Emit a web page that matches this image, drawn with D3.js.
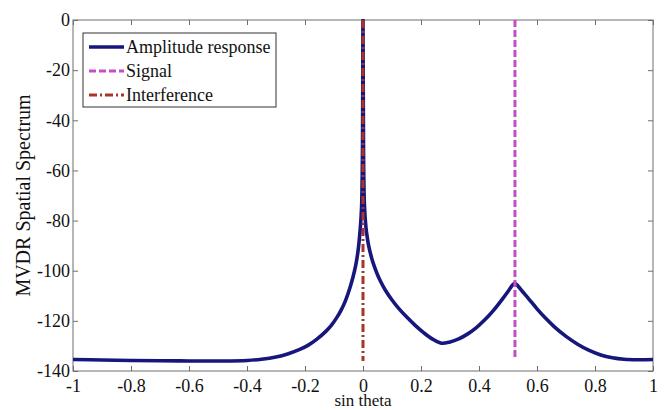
<!DOCTYPE html>
<html>
<head>
<meta charset="utf-8">
<script src="https://cdn.jsdelivr.net/npm/d3@7"></script>
<style>
  html, body { margin: 0; padding: 0; background: #fff; }
  svg { display: block; }
</style>
</head>
<body>
<svg id="chart" width="668" height="410"></svg>
<script>
// ---- data ----
const sinTheta = [-1, -0.9, -0.8, -0.7, -0.6, -0.5, -0.4, -0.35, -0.3, -0.26, -0.22, -0.19, -0.16, -0.13, -0.11, -0.09, -0.075, -0.06, -0.045, -0.034, -0.025, -0.017, -0.01, -0.005, -0.002, 0,
  0.002, 0.005, 0.01, 0.015, 0.02, 0.03, 0.04, 0.05, 0.06, 0.07, 0.08, 0.1, 0.12, 0.15, 0.18, 0.21, 0.24, 0.27, 0.3, 0.33, 0.36, 0.39, 0.42, 0.45, 0.48, 0.5, 0.515, 0.524,
  0.535, 0.55, 0.57, 0.6, 0.63, 0.66, 0.7, 0.74, 0.78, 0.82, 0.86, 0.9, 0.95, 1];
const amplitude = [-135.4, -135.6, -135.8, -135.9, -136.0, -136.0, -135.8, -135.3, -134.4, -133.2, -131.5, -129.8, -127.4, -124.4, -121.9, -118.6, -115.6, -111.8, -106.8, -102.3, -97.8, -92.0, -84.0, -75.0, -55.0, 0,
  -55.0, -74.0, -82.5, -87.0, -90.3, -95.0, -98.6, -101.6, -104.1, -106.3, -108.3, -111.7, -114.6, -118.4, -121.8, -124.8, -127.3, -128.9, -128.4, -127.2, -125.3, -122.8, -119.6, -115.8, -111.4, -108.3, -105.8, -105.0,
  -106.2, -108.3, -111.0, -115.2, -119.0, -122.4, -126.2, -129.3, -131.8, -133.6, -134.7, -135.3, -135.5, -135.4];
const signalX = 0.524;
const signalY = [0, -135];
const interferenceX = 0;
const interferenceY = [0, -136];
const xTicks = [-1, -0.8, -0.6, -0.4, -0.2, 0, 0.2, 0.4, 0.6, 0.8, 1];
const yTicks = [0, -20, -40, -60, -80, -100, -120, -140];
const legendLabels = ["Amplitude response", "Signal", "Interference"];

// ---- layout ----
const svg = d3.select("#chart");
const L = 73, R = 653, T = 20, B = 371;
const x = d3.scaleLinear().domain([-1, 1]).range([L, R]);
const y = d3.scaleLinear().domain([-140, 0]).range([B, T]);

const colBlue = "#16167c", colSig = "#c44ec8", colInt = "#a8352a", axisCol = "#6e6e6e";
const FONT = "'Liberation Serif'";
const tickSize = 18;

// frame
svg.append("rect").attr("x", L).attr("y", T).attr("width", R - L).attr("height", B - T)
  .attr("fill", "none").attr("stroke", axisCol).attr("stroke-width", 1);

// axes with inward ticks
const fmt = d => String(d).replace("\u2212", "-");
const xAx = svg.append("g").attr("transform", `translate(0,${B})`)
  .call(d3.axisBottom(x).tickValues(xTicks).tickSizeInner(-5).tickSizeOuter(0).tickPadding(8).tickFormat(fmt));
const xAxTop = svg.append("g").attr("transform", `translate(0,${T})`)
  .call(d3.axisTop(x).tickValues(xTicks).tickSizeInner(-5).tickSizeOuter(0).tickFormat(""));
const yAx = svg.append("g").attr("transform", `translate(${L},0)`)
  .call(d3.axisLeft(y).tickValues(yTicks).tickSizeInner(-5).tickSizeOuter(0).tickPadding(3).tickFormat(fmt));
const yAxR = svg.append("g").attr("transform", `translate(${R},0)`)
  .call(d3.axisRight(y).tickValues(yTicks).tickSizeInner(-5).tickSizeOuter(0).tickFormat(""));
[xAx, xAxTop, yAx, yAxR].forEach(g => {
  g.attr("font-family", null).attr("font-size", null);
  g.select(".domain").remove();
  g.selectAll(".tick line").attr("stroke", axisCol);
  g.selectAll(".tick text").style("font-size", tickSize + "px").style("font-family", FONT).attr("fill", "#111");
});

// axis labels
svg.append("text").attr("x", (L + R) / 2).attr("y", 406).attr("text-anchor", "middle")
  .style("font-size", "17px").style("font-family", FONT).attr("fill", "#111").text("sin theta");
svg.append("text").attr("transform", `translate(30,${(T + B) / 2}) rotate(-90)`).attr("text-anchor", "middle")
  .style("font-size", "20px").style("font-family", FONT).attr("fill", "#111").text("MVDR Spatial Spectrum");

// clip
svg.append("clipPath").attr("id", "clip").append("rect").attr("x", L).attr("y", T - 1).attr("width", R - L).attr("height", B - T + 1);
const plot = svg.append("g").attr("clip-path", "url(#clip)");

const pts = sinTheta.map((s, i) => [s, amplitude[i]]);
const line = d3.line().x(d => x(d[0])).y(d => y(d[1])).curve(d3.curveCatmullRom.alpha(0.5));
plot.append("path").datum(pts).attr("d", line).attr("fill", "none")
  .attr("stroke", colBlue).attr("stroke-width", 3.6).attr("stroke-linejoin", "round");

const vline = d3.line().x(d => x(d[0])).y(d => y(d[1]));
plot.append("path").datum(signalY.map(v => [signalX, v])).attr("d", vline)
  .attr("stroke", colSig).attr("stroke-width", 3).attr("stroke-dasharray", "7,3").attr("fill", "none");
plot.append("path").datum(interferenceY.map(v => [interferenceX, v])).attr("d", vline)
  .attr("stroke", colInt).attr("stroke-width", 3).attr("stroke-dasharray", "8,3,2,3").attr("fill", "none");

// legend
const lg = svg.append("g");
lg.append("rect").attr("x", 83).attr("y", 33).attr("width", 193).attr("height", 74)
  .attr("fill", "#fff").attr("stroke", "#333").attr("stroke-width", 1);
const styles = [
  { c: colBlue, w: 3.6, d: null },
  { c: colSig, w: 3, d: "7,3" },
  { c: colInt, w: 3, d: "8,3,2,3" }
];
legendLabels.forEach((lab, i) => {
  const yy = 47 + i * 24;
  lg.append("line").attr("x1", 89).attr("x2", 124).attr("y1", yy).attr("y2", yy)
    .attr("stroke", styles[i].c).attr("stroke-width", styles[i].w)
    .attr("stroke-dasharray", styles[i].d);
  lg.append("text").attr("x", 126).attr("y", yy).attr("dy", "0.33em")
    .style("font-size", "18px").style("font-family", FONT).attr("fill", "#111").text(lab);
});
</script>
</body>
</html>
